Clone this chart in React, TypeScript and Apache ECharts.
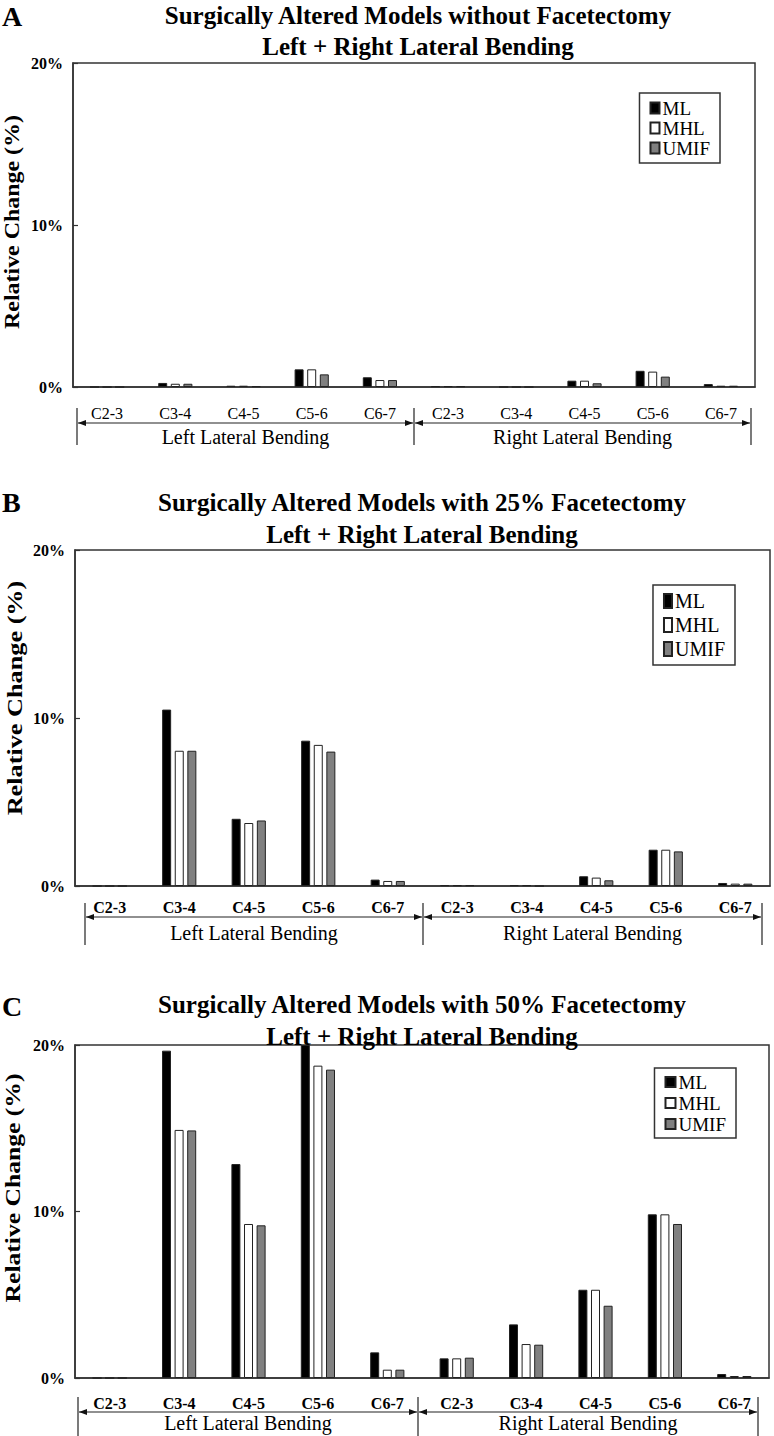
import React, { useEffect, useRef } from "react";
import * as echarts from "echarts";

const FONT = '"Liberation Serif", "Times New Roman", serif';

// ---- data ----
const levels = ["C2-3", "C3-4", "C4-5", "C5-6", "C6-7"];
const sides = ["L", "R"];
const groupLabels = ["Left Lateral Bending", "Right Lateral Bending"];
const seriesNames = ["ML", "MHL", "UMIF"];
const panelLetters = ["A", "B", "C"];
const titlesLine1 = [
  "Surgically Altered Models without Facetectomy",
  "Surgically Altered Models with 25% Facetectomy",
  "Surgically Altered Models with 50% Facetectomy",
];
const titleLine2 = "Left + Right Lateral Bending";
const yAxisTitle = "Relative Change (%)";

// values in % (left C2-3..C6-7, then right C2-3..C6-7)
const A_ML = [0, 0.25, 0.08, 1.09, 0.6, 0.05, 0, 0.39, 1.0, 0.18];
const A_MHL = [0, 0.2, 0.08, 1.09, 0.43, 0.05, 0, 0.39, 0.95, 0.08];
const A_UMIF = [0, 0.2, 0.05, 0.78, 0.43, 0.05, 0, 0.23, 0.64, 0.08];

const B_ML = [0, 10.5, 4.0, 8.65, 0.38, 0.05, 0.05, 0.58, 2.16, 0.18];
const B_MHL = [0, 8.05, 3.75, 8.4, 0.3, 0.05, 0.05, 0.5, 2.16, 0.14];
const B_UMIF = [0, 8.05, 3.9, 8.0, 0.3, 0.05, 0, 0.34, 2.06, 0.14];

const C_ML = [0, 19.66, 12.85, 20, 1.54, 1.18, 3.22, 5.3, 9.83, 0.24];
const C_MHL = [0, 14.9, 9.25, 18.76, 0.5, 1.18, 2.04, 5.3, 9.83, 0.12];
const C_UMIF = [0, 14.87, 9.17, 18.52, 0.5, 1.22, 2.0, 4.34, 9.25, 0.12];

const panelData = [
  [A_ML, A_MHL, A_UMIF],
  [B_ML, B_MHL, B_UMIF],
  [C_ML, C_MHL, C_UMIF],
];

const categories = sides.flatMap((s) => levels.map((l) => s + " " + l));

// ---- layout / styles ----
const fills = ["#000000", "#ffffff", "#808080"];
const layouts = [
  {
    grid: { left: 73, top: 63, width: 682, height: 324 },
    labelMargin: 18,
    labelBold: false,
    bx: [77, 414, 751], bTop: 408, bBot: 445, bArrow: 423, groupY: 437,
    titleX: 418, titleY: [15, 46], letterY: 16,
    yName: { x: 12, y: 222, s: 1.14 },
    legend: { right: 54, top: 93, w: 9, h: 11, gap: 0, fs: 19, lh: 20, pad: [5, 10, 5, 10] },
  },
  {
    grid: { left: 75, top: 550, width: 695, height: 336 },
    labelMargin: 13,
    labelBold: true,
    bx: [85, 423, 762], bTop: 903, bBot: 945, bArrow: 917, groupY: 933,
    titleX: 422, titleY: [502, 534], letterY: 502,
    yName: { x: 15, y: 698, s: 1.25 },
    legend: { right: 39, top: 585, w: 8, h: 14, gap: 4, fs: 20, lh: 20, pad: [6, 10, 6, 10] },
  },
  {
    grid: { left: 75, top: 1045, width: 694, height: 333 },
    labelMargin: 17,
    labelBold: true,
    bx: [78, 418, 758], bTop: 1397, bBot: 1436, bArrow: 1412, groupY: 1423,
    titleX: 422, titleY: [1004, 1036], letterY: 1006,
    yName: { x: 13, y: 1188, s: 1.22 },
    legend: { right: 38, top: 1068, w: 10, h: 10, gap: 1, fs: 19, lh: 20, pad: [4, 10, 4, 10] },
  },
];

function txt(x: number, y: number, text: string, size: number, weight: string, align: string, extra: any = {}) {
  return {
    type: "text",
    x,
    y,
    silent: true,
    ...extra,
    style: {
      text,
      fontFamily: FONT,
      fontSize: size,
      fontWeight: weight,
      fill: "#000",
      align,
      textAlign: align,
      verticalAlign: "middle",
      textVerticalAlign: "middle",
    },
  };
}

function bracketGraphics(L: any) {
  const els: any[] = [];
  const stroke = { stroke: "#222", lineWidth: 1.2 };
  L.bx.forEach((x: number) => {
    els.push({ type: "line", silent: true, shape: { x1: x, y1: L.bTop, x2: x, y2: L.bBot }, style: stroke });
  });
  for (let k = 0; k < 2; k++) {
    const x0 = L.bx[k] + 1;
    const x1 = L.bx[k + 1] - 1;
    const y = L.bArrow;
    els.push({ type: "line", silent: true, shape: { x1: x0, y1: y, x2: x1, y2: y }, style: stroke });
    els.push({ type: "polygon", silent: true, shape: { points: [[x0, y], [x0 + 8, y - 3], [x0 + 8, y + 3]] }, style: { fill: "#111" } });
    els.push({ type: "polygon", silent: true, shape: { points: [[x1, y], [x1 - 8, y - 3], [x1 - 8, y + 3]] }, style: { fill: "#111" } });
    els.push(txt((x0 + x1) / 2, L.groupY, groupLabels[k], 20, "normal", "center"));
  }
  return els;
}

export default function App() {
  const ref = useRef<HTMLDivElement>(null);
  useEffect(() => {
    if (!ref.current) return;
    const chart = echarts.init(ref.current, undefined, { renderer: "svg" });

    const graphic: any[] = [];
    layouts.forEach((L, i) => {
      graphic.push(txt(2, L.letterY, panelLetters[i], 28, "bold", "left"));
      graphic.push(txt(L.titleX, L.titleY[0], titlesLine1[i], 25, "bold", "center"));
      graphic.push(txt(L.titleX, L.titleY[1], titleLine2, 25, "bold", "center"));
      graphic.push(
        txt(L.yName.x, L.yName.y, yAxisTitle, 21, "bold", "center", {
          rotation: Math.PI / 2,
          scaleX: L.yName.s,
        })
      );
      graphic.push(...bracketGraphics(L));
    });

    const series: any[] = [];
    panelData.forEach((arrs, i) => {
      arrs.forEach((vals, j) => {
        series.push({
          type: "bar",
          name: seriesNames[j],
          xAxisIndex: i,
          yAxisIndex: i,
          data: vals,
          barWidth: 9,
          barGap: "40%",
          itemStyle: { color: fills[j], borderColor: "#222", borderWidth: 1 },
          emphasis: { disabled: true },
        });
      });
    });

    const option: any = {
      animation: false,
      textStyle: { fontFamily: FONT },
      grid: layouts.map((L) => ({
        ...L.grid,
        show: true,
        borderColor: "#333",
        borderWidth: 1.5,
        backgroundColor: "transparent",
      })),
      xAxis: layouts.map((L, i) => ({
        type: "category",
        gridIndex: i,
        data: categories,
        boundaryGap: true,
        axisLine: { lineStyle: { color: "#333", width: 1.5 } },
        axisTick: { inside: true, length: 6, lineStyle: { color: "#333", width: 1.2 } },
        axisLabel: {
          interval: 0,
          margin: L.labelMargin,
          fontFamily: FONT,
          fontSize: 16,
          fontWeight: L.labelBold ? "bold" : "normal",
          color: "#000",
          formatter: (_v: string, idx: number) => levels[idx % levels.length],
        },
        splitLine: { show: false },
      })),
      yAxis: layouts.map((_L, i) => ({
        type: "value",
        gridIndex: i,
        min: 0,
        max: 20,
        interval: 10,
        axisLine: { show: true, lineStyle: { color: "#333", width: 1.5 } },
        axisTick: { show: true, inside: true, length: 5, lineStyle: { color: "#333", width: 1.2 } },
        axisLabel: {
          formatter: "{value}%",
          fontFamily: FONT,
          fontSize: 16,
          fontWeight: "bold",
          color: "#000",
          margin: 10,
        },
        splitLine: { show: false },
      })),
      legend: layouts.map((L) => ({
        data: seriesNames,
        orient: "vertical",
        right: L.legend.right,
        top: L.legend.top,
        icon: "rect",
        itemWidth: L.legend.w,
        itemHeight: L.legend.h,
        itemGap: L.legend.gap,
        padding: L.legend.pad,
        borderColor: "#333",
        borderWidth: 1.5,
        selectedMode: false,
        textStyle: {
          fontFamily: FONT,
          fontSize: L.legend.fs,
          lineHeight: L.legend.lh,
          color: "#000",
          padding: [0, 0, 0, -2],
        },
      })),
      series,
      graphic,
    };

    chart.setOption(option);
    return () => chart.dispose();
  }, []);

  return (
    <div
      ref={ref}
      style={{ position: "absolute", left: 0, top: 0, width: 774, height: 1436, background: "#fff" }}
    />
  );
}
